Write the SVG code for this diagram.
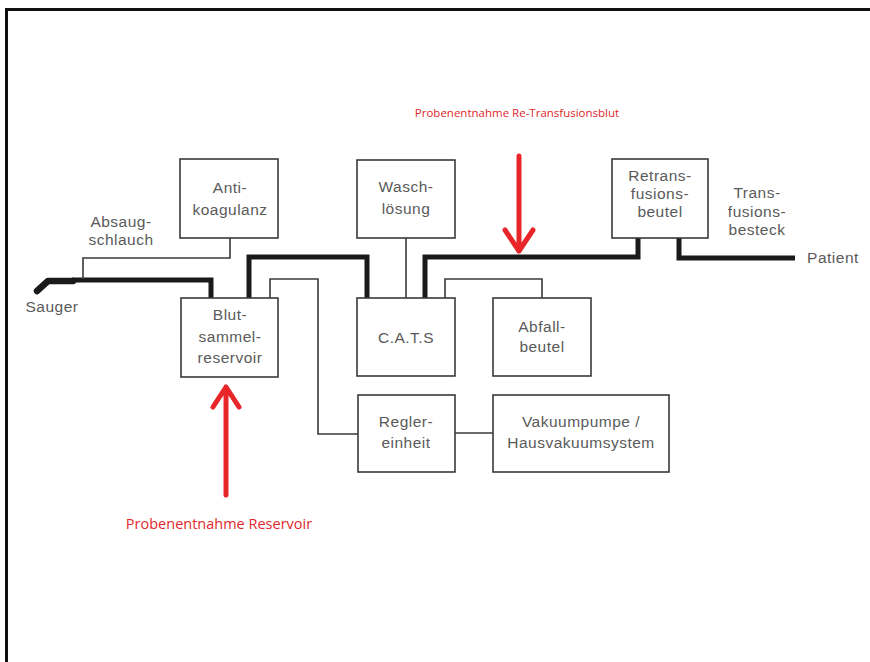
<svg xmlns="http://www.w3.org/2000/svg" width="870" height="662" viewBox="0 0 870 662">
<style>
.box{fill:#fff;stroke:#3a3a3a;stroke-width:1.6}
.thin{fill:none;stroke:#3a3a3a;stroke-width:1.6}
.thick{fill:none;stroke:#1a1a1a;stroke-width:5;stroke-linejoin:miter}
.lbl{font-family:"Liberation Sans",Arial,sans-serif;font-size:15.5px;letter-spacing:0.5px;fill:#5a5a5a;text-anchor:middle}
.red{font-family:"Open Sans","Liberation Sans",sans-serif;fill:#e0282c;text-anchor:middle}
.arrow{fill:none;stroke:#e8262a;stroke-width:5;stroke-linecap:round;stroke-linejoin:round}
</style>
<rect x="0" y="0" width="870" height="662" fill="#fff"/>
<path d="M6.5,662 V9.5 H870" fill="none" stroke="#111" stroke-width="3"/>
<g id="connectors">
<path class="thick" d="M72,280 H211 V298"/>
<path d="M37,291 L48,281 H73" stroke="#1a1a1a" stroke-width="6.5" fill="none" stroke-linecap="round" stroke-linejoin="round"/>
<path class="thin" d="M83,279 V258 H230 V238"/>
<path class="thick" d="M249,298 V257 H367 V298"/>
<path class="thin" d="M270,298 V279 H318 V434 H358"/>
<path class="thin" d="M406,238 V298"/>
<path class="thick" d="M425,298 V257 H638 V238"/>
<path class="thin" d="M445,298 V279 H542 V298"/>
<path class="thin" d="M455,433 H493"/>
<path class="thick" d="M679,238 V258 H795"/>
</g>
<g id="anti"><rect class="box" x="180" y="159" width="98" height="79"/><text class="lbl" x="230" y="193">Anti-</text><text class="lbl" x="230" y="215">koagulanz</text></g>
<g id="absaug"><text class="lbl" x="121" y="227">Absaug-</text><text class="lbl" x="121" y="245">schlauch</text></g>
<g id="sauger"><text class="lbl" x="52" y="312">Sauger</text></g>
<g id="blut"><rect class="box" x="181" y="298" width="97" height="79"/><text class="lbl" x="230" y="320">Blut-</text><text class="lbl" x="230" y="342">sammel-</text><text class="lbl" x="230" y="363">reservoir</text></g>
<g id="wasch"><rect class="box" x="357" y="160" width="98" height="78"/><text class="lbl" x="406" y="192">Wasch-</text><text class="lbl" x="406" y="214">lösung</text></g>
<g id="cats"><rect class="box" x="357" y="298" width="98" height="78"/><text class="lbl" x="406" y="343">C.A.T.S</text></g>
<g id="abfall"><rect class="box" x="493" y="298" width="98" height="78"/><text class="lbl" x="542" y="332">Abfall-</text><text class="lbl" x="542" y="352">beutel</text></g>
<g id="retrans"><rect class="box" x="612" y="159" width="96" height="79"/><text class="lbl" x="660" y="181">Retrans-</text><text class="lbl" x="660" y="199">fusions-</text><text class="lbl" x="660" y="217">beutel</text></g>
<g id="transfusion"><text class="lbl" x="757" y="198">Trans-</text><text class="lbl" x="757" y="217">fusions-</text><text class="lbl" x="757" y="235">besteck</text></g>
<g id="patient"><text class="lbl" x="833" y="263">Patient</text></g>
<g id="regler"><rect class="box" x="358" y="395" width="97" height="77"/><text class="lbl" x="406" y="427">Regler-</text><text class="lbl" x="406" y="448">einheit</text></g>
<g id="vakuum"><rect class="box" x="493" y="395" width="176" height="77"/><text class="lbl" x="581" y="427">Vakuumpumpe /</text><text class="lbl" x="581" y="448">Hausvakuumsystem</text></g>
<g id="sample-retrans"><text class="red" x="517" y="117" font-size="11.5">Probenentnahme Re-Transfusionsblut</text><path class="arrow" d="M519,156 V251 M505,230 L519,251 L533,230"/></g>
<g id="sample-reservoir"><text class="red" x="219" y="529" font-size="14.5">Probenentnahme Reservoir</text><path class="arrow" d="M226,495 V387 M213,407 L226,387 L239,407"/></g>
</svg>
